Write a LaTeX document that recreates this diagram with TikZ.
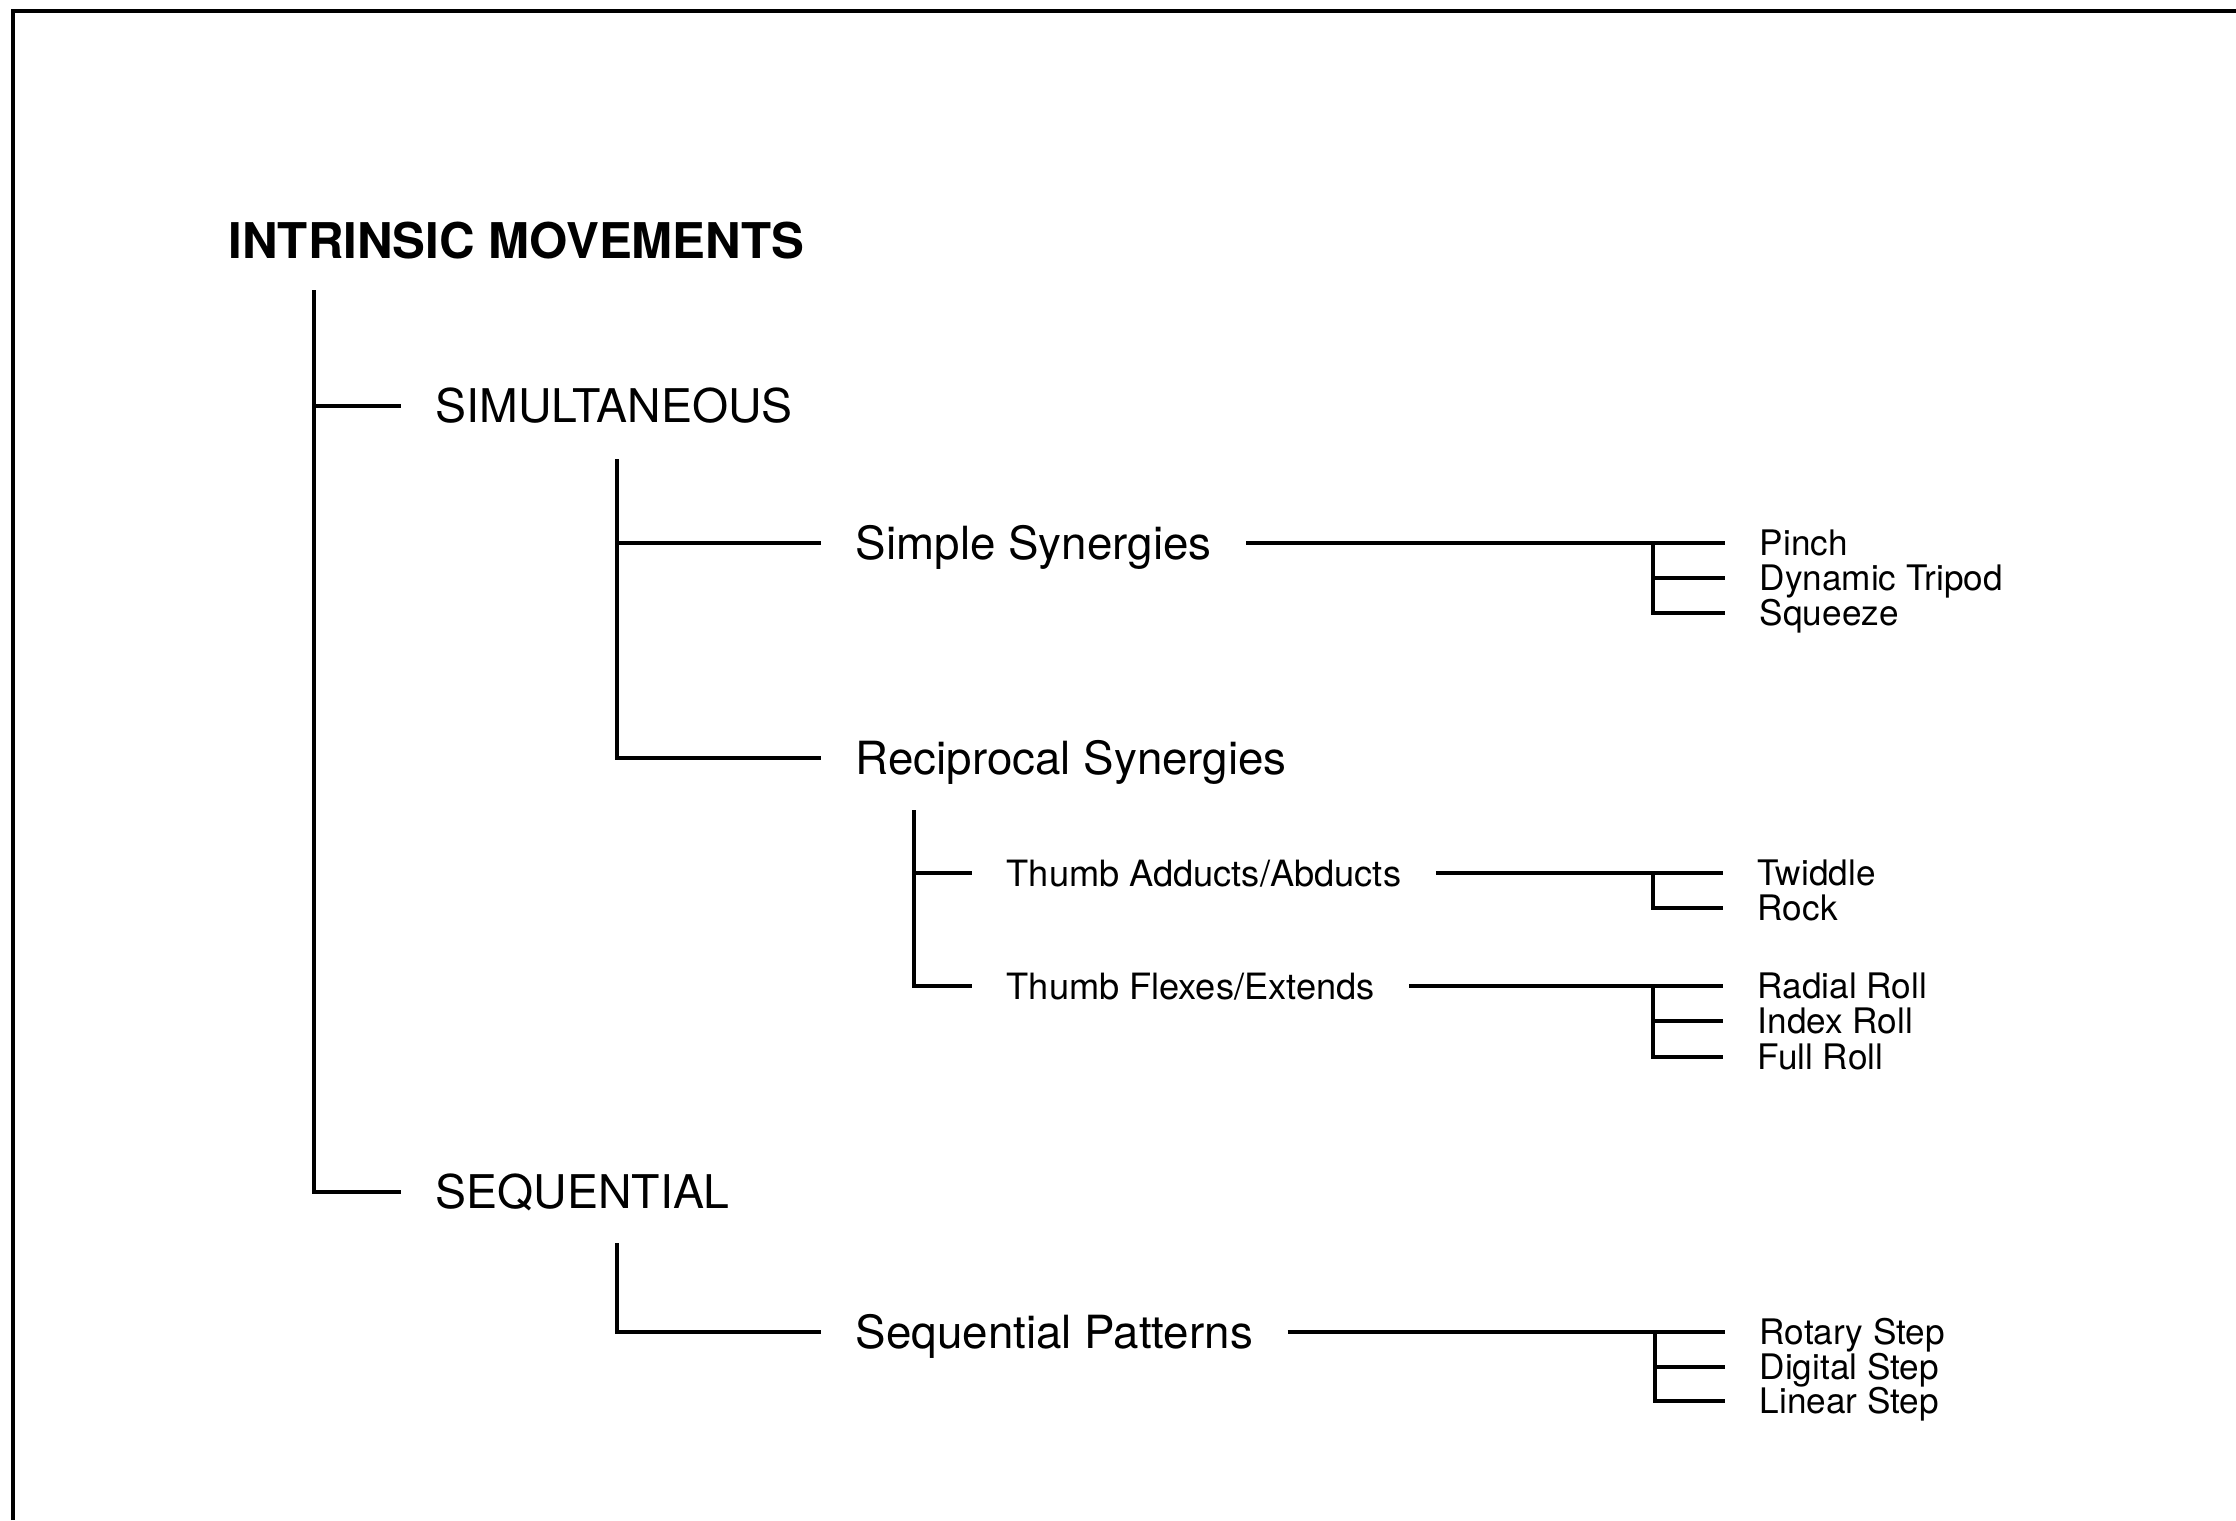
\documentclass[tikz,border=0pt]{standalone}
\usepackage{fontspec}
\setmainfont{TeX Gyre Heros}

\begin{document}
\begin{tikzpicture}[
    x=0.01cm, y=-0.01cm,
    every node/.style={anchor=west, inner ysep=0pt, inner xsep=0.34cm},
    head/.style={font=\fontsize{14}{16}\selectfont\bfseries, text height=10pt, text depth=0pt, inner xsep=0pt},
    branch/.style={font=\fontsize{13.2}{15}\selectfont, text height=9.4pt, text depth=0pt},
    group/.style={font=\fontsize{13}{15}\selectfont, text height=9.3pt, text depth=0pt},
    motion/.style={font=\fontsize{10.3}{12}\selectfont, text height=7.4pt, text depth=0pt},
    leaf/.style={font=\fontsize{10}{12}\selectfont, text height=7.2pt, text depth=0pt},
    tree/.style={line width=1.2pt},
  ]
    \useasboundingbox (0,0) rectangle (2236,1520);
    % frame of the plate
    \draw[line width=1.3pt] (13,1520) -- (13,11) -- (2236,11);

    \node[head] (intrinsic) at (228,241) {INTRINSIC MOVEMENTS};
    \node[branch] (simul) at (401,406) {SIMULTANEOUS};
    \node[branch] (sequ) at (401,1192) {SEQUENTIAL};

    \node[group] (simple) at (821,543) {Simple Synergies};
    \node[group] (recip) at (821,758) {Reciprocal Synergies};
    \node[group] (pattern) at (821,1332) {Sequential Patterns};

    \node[motion] (adduct) at (972,873) {Thumb Adducts/Abducts};
    \node[motion] (flex) at (972,986) {Thumb Flexes/Extends};

    \node[leaf] (pinch) at (1725,543) {Pinch};
    \node[leaf] (tripod) at (1725,578) {Dynamic Tripod};
    \node[leaf] (squeeze) at (1725,613) {Squeeze};
    \node[leaf] (twiddle) at (1723,873) {Twiddle};
    \node[leaf] (rock) at (1723,908) {Rock};
    \node[leaf] (radial) at (1723,986) {Radial Roll};
    \node[leaf] (index) at (1723,1021) {Index Roll};
    \node[leaf] (full) at (1723,1057) {Full Roll};
    \node[leaf] (rotary) at (1725,1332) {Rotary Step};
    \node[leaf] (digital) at (1725,1367) {Digital Step};
    \node[leaf] (linear) at (1725,1401) {Linear Step};

    % stems of the tree
    \coordinate (trunk) at (314,290);
    \coordinate (simstem) at (617,459);
    \coordinate (seqstem) at (617,1243);
    \coordinate (recstem) at (914,810);
    \draw[tree] (trunk) |- (simul.west);
    \draw[tree] (trunk) |- (sequ.west);
    \draw[tree] (simstem) |- (simple.west);
    \draw[tree] (simstem) |- (recip.west);
    \draw[tree] (seqstem) |- (pattern.west);
    \draw[tree] (recstem) |- (adduct.west);
    \draw[tree] (recstem) |- (flex.west);

    % forks to the single movements
    \coordinate (simfork) at (1653,543);
    \coordinate (addfork) at (1653,873);
    \coordinate (flexfork) at (1653,986);
    \coordinate (seqfork) at (1655,1332);
    \draw[tree] (simple.east) -- (pinch.west);
    \draw[tree] (simfork) |- (tripod.west);
    \draw[tree] (simfork) |- (squeeze.west);
    \draw[tree] (adduct.east) -- (twiddle.west);
    \draw[tree] (addfork) |- (rock.west);
    \draw[tree] (flex.east) -- (radial.west);
    \draw[tree] (flexfork) |- (index.west);
    \draw[tree] (flexfork) |- (full.west);
    \draw[tree] (pattern.east) -- (rotary.west);
    \draw[tree] (seqfork) |- (digital.west);
    \draw[tree] (seqfork) |- (linear.west);
\end{tikzpicture}
\end{document}
